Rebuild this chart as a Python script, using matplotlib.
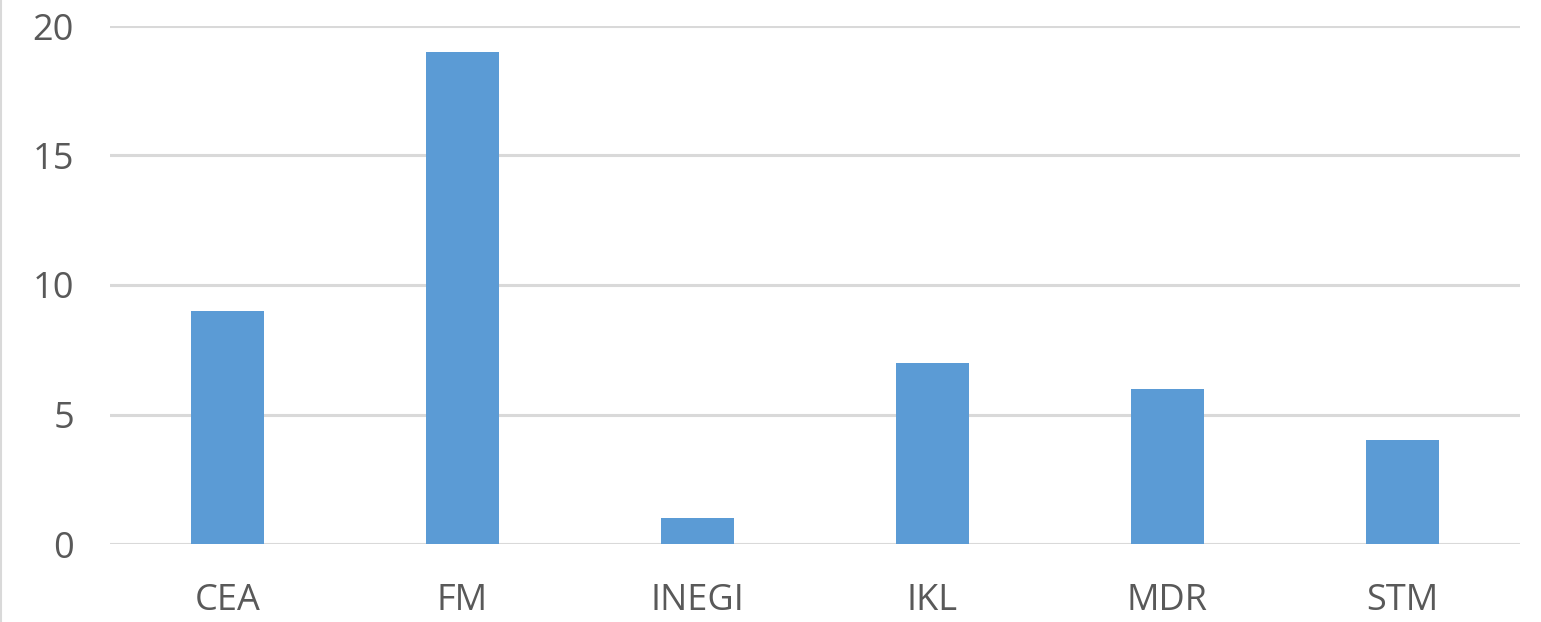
import matplotlib.pyplot as plt
import numpy as np

# 各机构数量
categories = ["CEA", "FM", "INEGI", "IKL", "MDR", "STM"]
counts = [9, 19, 1, 7, 6, 4]
y_ticks = [0, 5, 10, 15, 20]

plt.rcParams['font.family'] = ['Open Sans', 'DejaVu Sans']

fig = plt.figure(figsize=(15.41, 6.22), dpi=100)
ax = fig.add_axes([110 / 1541, 1 - 544 / 622, 1410 / 1541, 518 / 622])

x = np.arange(len(categories))
ax.bar(x, counts, width=0.31, color="#5B9BD5", zorder=3)

ax.set_xlim(-0.5, len(categories) - 0.5)
ax.set_ylim(0, 20)
ax.set_yticks(y_ticks)
ax.set_xticks(x)
ax.set_xticklabels(categories)

# 网格线
ax.yaxis.grid(True, color="#D9D9D9", linewidth=2.2, zorder=0)
for s in ax.spines.values():
    s.set_visible(False)
ax.tick_params(axis="both", length=0, labelsize=26, labelcolor="#595959")
ax.tick_params(axis="y", pad=26)
ax.tick_params(axis="x", pad=28)

# 左侧边框线
fig.add_artist(plt.Line2D([0.0005, 0.0005], [0, 1], color="#D9D9D9", linewidth=1.5))

fig.savefig("out.png", dpi=100)
